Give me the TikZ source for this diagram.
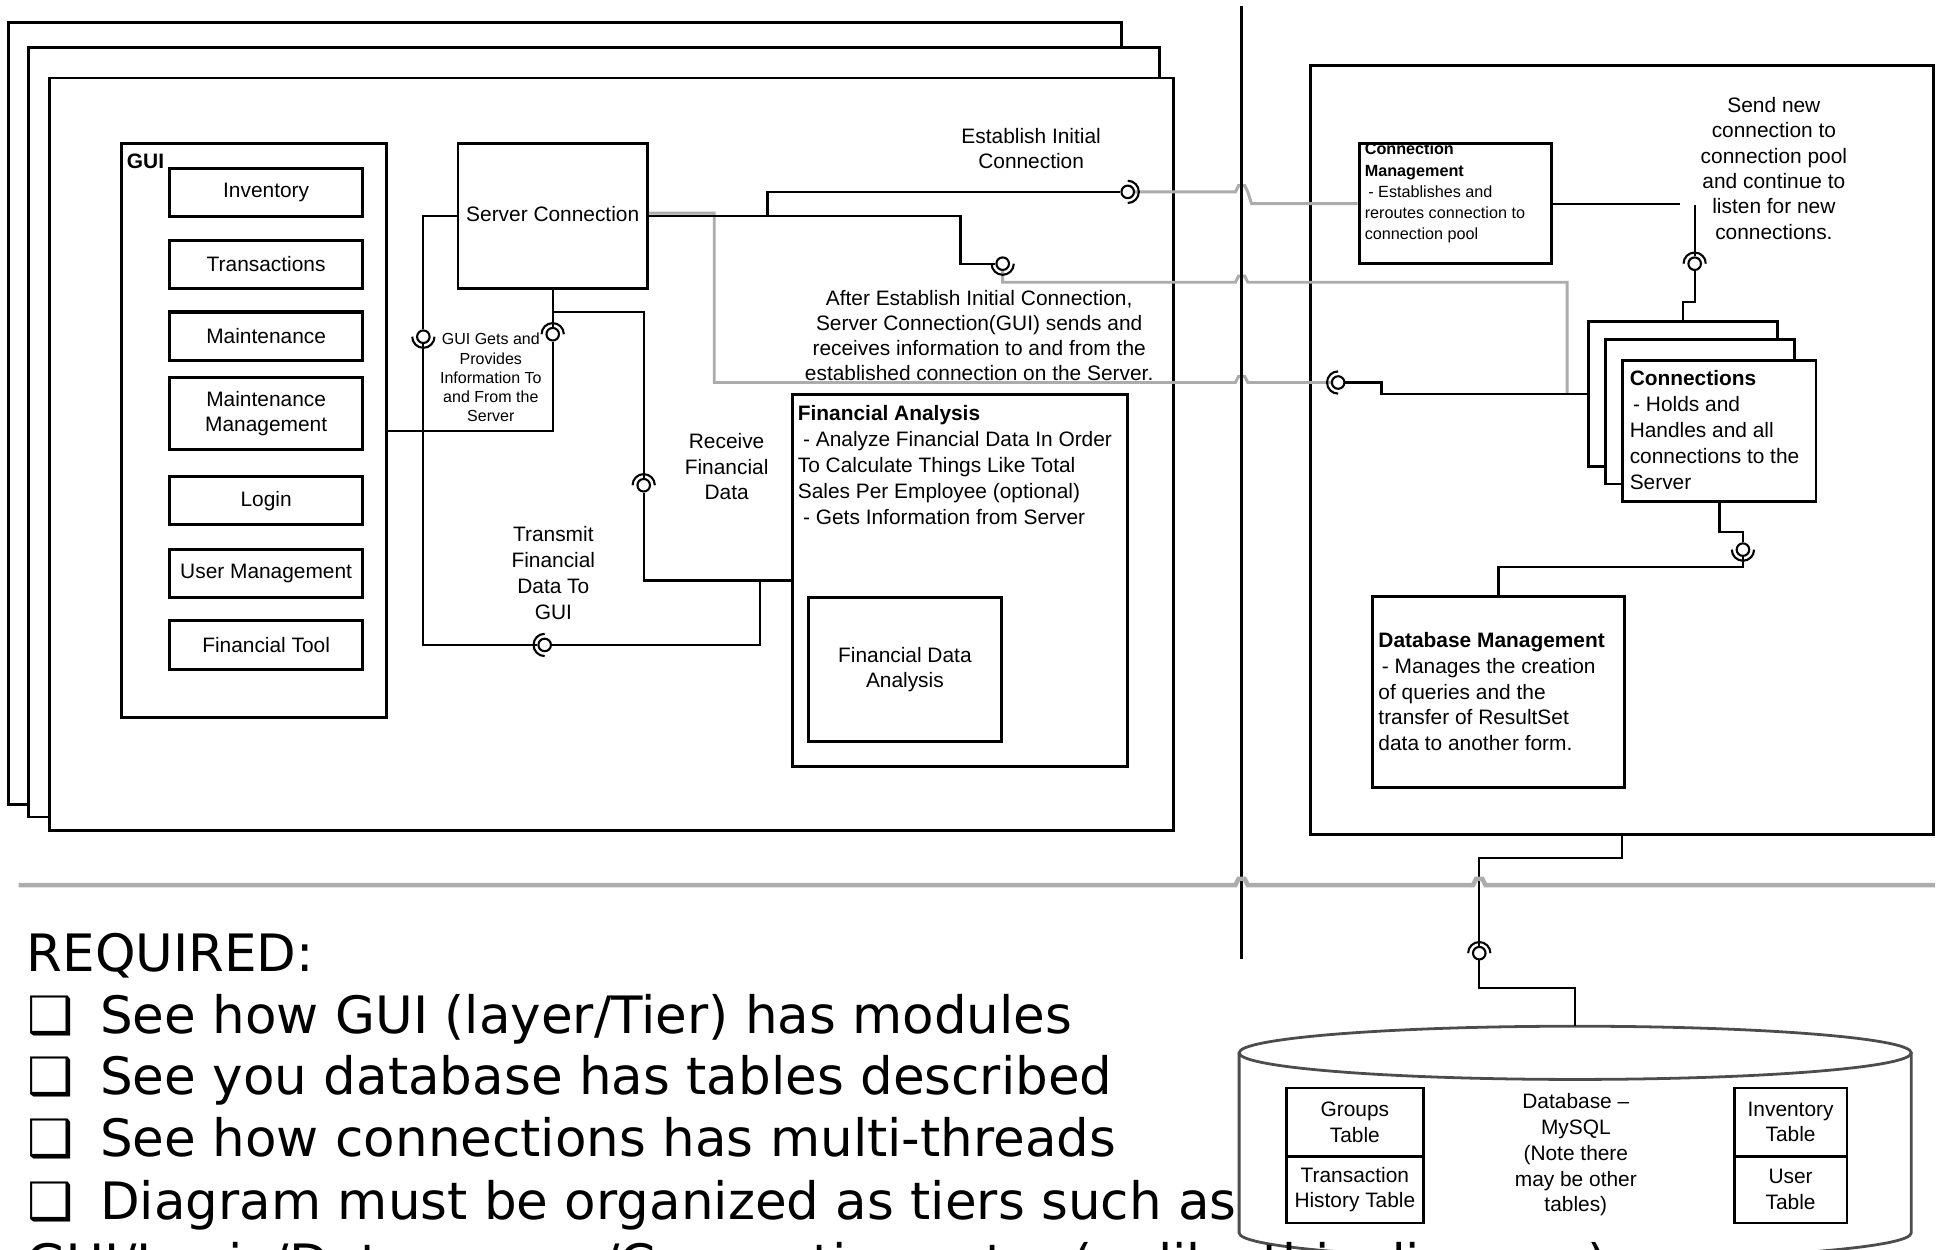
\documentclass[tikz,border=0pt]{standalone}
\usepackage{fontspec}
\setmainfont{Liberation Sans}
\newfontfamily\reqfont{DejaVu Sans}
\usetikzlibrary{arrows.meta,positioning,fit,calc}

\begin{document}
\begin{tikzpicture}[
x=0.0125cm, y=-0.0125cm,
every node/.style={font=\fontsize{6}{7.3}\selectfont, align=center, inner sep=0pt},
frame/.style={draw, line width=0.85pt, fill=white},
modbox/.style={frame, line width=0.9pt},
desc/.style={font=\fontsize{6}{7.45}\selectfont, align=left, anchor=north west},
note/.style={font=\fontsize{6}{7.4}\selectfont, align=center},
ball/.style={circle, draw, fill=white, line width=0.6pt, minimum size=3.6pt},
socket/.style={line width=0.6pt},
conn/.style={line width=0.65pt},
gconn/.style={line width=0.85pt, draw=gray!65},
sepline/.style={line width=0.95pt},
hline/.style={line width=1.3pt, draw=gray!65},
cyl/.style={line width=0.8pt, draw=black!70},
req/.style={font=\reqfont\fontsize{14.8}{18}\selectfont, anchor=base west, align=left}
]
\path[use as bounding box] (0,0) rectangle (1568,1009);
\clip (0,0) rectangle (1568,1009);

\node[frame, fit={(7,18) (906,650)}] (tierA) {};
\node[frame, fit={(23,38) (937,660)}] (tierB) {};
\node[frame, fit={(40,63) (948,671)}] (guitier) {};

\node[frame, fit={(98,116) (312,580)}] (gui) {};
\node[anchor=north west, font=\bfseries\fontsize{6}{7}\selectfont] (guilbl) at (102,124) {GUI};
\node[modbox, fit={(137,136) (293,175)}, label=center:Inventory] (inv) {};
\node[modbox, fit={(137,194) (293,233)}, label=center:Transactions] (trans) {};
\node[modbox, fit={(137,252) (293,291)}, label=center:Maintenance] (maint) {};
\node[modbox, fit={(137,305) (293,363)}, label={center:Maintenance\\Management}] (maintmgmt) {};
\node[modbox, fit={(137,385) (293,424)}, label=center:Login] (login) {};
\node[modbox, fit={(137,444) (293,483)}, label=center:User Management] (usermgmt) {};
\node[modbox, fit={(137,501) (293,541)}, label=center:Financial Tool] (fintool) {};

\node[frame, fit={(370,116) (523,233)}, label={[yshift=0.7pt]center:Server Connection}] (sc) {};
\node[frame, fit={(640,319) (911,619)}] (fa) {};
\node[desc] (fatxt) at (644,327) {\textbf{Financial Analysis}\\\hspace{1.5pt}- Analyze Financial Data In Order\\To Calculate Things Like Total\\Sales Per Employee (optional)\\\hspace{1.5pt}- Gets Information from Server};
\node[frame, fit={(653,483) (809,599)}, label={center:Financial Data\\Analysis}] (fda) {};

\node[frame, fit={(1059,53) (1562,674)}] (rtier) {};
\node[frame, fit={(1098,116) (1253,213)}] (cm) {};
\node[desc, font=\fontsize{4.65}{6.1}\selectfont] (cmtxt) at (1102,115) {\textbf{Connection}\\\textbf{Management}\\\hspace{1pt}- Establishes and\\reroutes connection to\\connection pool};
\node[frame, fit={(1283,260) (1436,377)}] (cback) {};
\node[frame, fit={(1297,274) (1450,391)}] (cmid) {};
\node[frame, fit={(1311,291) (1467,405)}] (conns) {};
\node[desc] (connstxt) at (1316,299) {\textbf{Connections}\\\hspace{1pt}- Holds and\\Handles and all\\connections to the\\Server};
\node[frame, fit={(1109,482) (1312,636)}] (dbm) {};
\node[desc] (dbmtxt) at (1113,510) {\textbf{Database Management}\\\hspace{1pt}- Manages the creation\\of queries and the\\transfer of ResultSet\\data to another form.};

\node[note] (estab) at (833,120) {Establish Initial\\Connection};
\node[note, font=\fontsize{6}{7.2}\selectfont] (after) at (791,271) {After Establish Initial Connection,\\Server Connection(GUI) sends and\\receives information to and from the\\established connection on the Server.};
\node[note] (recv) at (587,377) {Receive\\Financial\\Data};
\node[note] (transmit) at (447,463) {Transmit\\Financial\\Data To\\GUI};
\node[note, font=\fontsize{4.6}{5.5}\selectfont] (guigets) at (396.5,305) {GUI Gets and\\Provides\\Information To\\and From the\\Server};
\node[note, font=\fontsize{6}{7.3}\selectfont] (sendnew) at (1433,136) {Send new\\connection to\\connection pool\\and continue to\\listen for new\\connections.};

\node[fit={(1001,829) (1544,1018)}] (db) {};
\draw[cyl] (1001,850.5) -- (1001,996) arc[start angle=180, end angle=0, x radius=271.5, y radius=21.5] -- (1544,850.5);
\draw[cyl] (1272.5,850.5) ellipse [x radius=271.5, y radius=21.5];
\node[modbox, line width=0.8pt, fit={(1039,879) (1150,934)}, label={center:Groups\\Table}] (groupst) {};
\node[modbox, line width=0.8pt, fit={(1039,934) (1150,988)}, label={center:Transaction\\History Table}] (histt) {};
\node[modbox, line width=0.8pt, fit={(1401,879) (1492,934)}, label={center:Inventory\\Table}] (invt) {};
\node[modbox, line width=0.8pt, fit={(1401,934) (1492,988)}, label={center:User\\Table}] (usert) {};
\node[note] (dbtxt) at (1273,933) {Database --\\MySQL\\(Note there\\may be other\\tables)};

\node[ball] (b1) at (342,272) {};
\node[ball] (b2) at (446.5,270) {};
\node[ball] (b3) at (911,155) {};
\node[ball] (b4) at (810,213) {};
\node[ball] (b5) at (1081,309) {};
\node[ball] (b6) at (520,392) {};
\node[ball] (b7) at (440,521) {};
\node[ball] (b8) at (1369,213) {};
\node[ball] (b9) at (1408,444) {};
\node[ball] (b10) at (1195,770) {};

\coordinate (sctap) at (620,174.5);
\coordinate (rcvsplit) at (446.5,252);
\coordinate (fajoin) at (614,469);
\coordinate (pooljoin) at (1266,318.5);
\coordinate (cmend) at (1357,164.5);
\coordinate (poolstart) at (1369,166);

\draw[conn] (sc.south) -- (b2.north);
\draw[conn] (b2.south) |- (gui.east);
\draw[conn] (rcvsplit) -| (b6.north);
\draw[conn] (b6.south) |- (fa.west);
\draw[conn] (sc.west) -| (b1.north);
\draw[conn] (b1.south) |- (b7.west);
\draw[conn] (b7.east) -| (fajoin);
\draw[gconn] ([yshift=0.8pt]sc.east) -| (577,309) -- (998,309) -- (1000.5,304) -- (1005.5,304) -- (1008,309) -- (b5.west);
\draw[conn] (sc.east) -- (776,174.5) |- (b4.west);
\draw[conn] (sctap) |- (b3.west);
\draw[gconn] (b3.east) -- (998,155) -- (1000.5,150) -- (1005.5,150) -- (1008,155) -- (1011,164.5) -- (cm.west);
\draw[gconn] (b4.south) |- (998,228) -- (1000.5,223) -- (1005.5,223) -- (1008,228) -| (pooljoin);
\draw[conn] (b5.east) -- (1116,309) |- (cback.west);
\draw[conn] (cm.east) -- (cmend);
\draw[conn] (poolstart) -- (b8.north);
\draw[conn] (b8.south) -- (1369,244) -| (cback.north);
\draw[conn] (conns.south) |- (1408,430) -- (b9.north);
\draw[conn] (b9.south) -- (1408,458) -| (dbm.north);
\draw[conn] (rtier.south) |- (1195,693) -- (b10.north);
\draw[conn] (b10.south) -- (1195,798) -| (db.north);

\draw[socket] (b1.center) ++(0:9) arc[start angle=0, end angle=180, radius=9];
\draw[socket] (b2.center) ++(180:9) arc[start angle=180, end angle=360, radius=9];
\draw[socket] (b3.center) ++(-90:9) arc[start angle=-90, end angle=90, radius=9];
\draw[socket] (b4.center) ++(0:9) arc[start angle=0, end angle=180, radius=9];
\draw[socket] (b5.center) ++(90:9) arc[start angle=90, end angle=270, radius=9];
\draw[socket] (b6.center) ++(180:9) arc[start angle=180, end angle=360, radius=9];
\draw[socket] (b7.center) ++(90:9) arc[start angle=90, end angle=270, radius=9];
\draw[socket] (b8.center) ++(180:9) arc[start angle=180, end angle=360, radius=9];
\draw[socket] (b9.center) ++(0:9) arc[start angle=0, end angle=180, radius=9];
\draw[socket] (b10.center) ++(180:9) arc[start angle=180, end angle=360, radius=9];

\draw[sepline] (1003,5) -- (1003,775);
\draw[hline] (15,715) -- (998,715) -- (1000.5,710) -- (1005.5,710) -- (1008,715) -- (1190,715) -- (1192.5,710) -- (1197.5,710) -- (1200,715) -- (1563,715);

\node[req] (reqhead) at (21,785) {REQUIRED:};
\node[req] (req1) at (22,834.5) {\makebox[20.8pt][l]{❑}See how GUI (layer/Tier) has modules};
\node[req] (req2) at (22,884.5) {\makebox[20.8pt][l]{❑}See you database has tables described};
\node[req] (req3) at (22,934.5) {\makebox[20.8pt][l]{❑}See how connections has multi-threads};
\node[req] (req4) at (22,985) {\makebox[20.8pt][l]{❑}Diagram must be organized as tiers such as};
\node[req] (req5) at (21,1035) {GUI/Logic/Data access/Connections etc. (unlike this diagram)};
\end{tikzpicture}
\end{document}
